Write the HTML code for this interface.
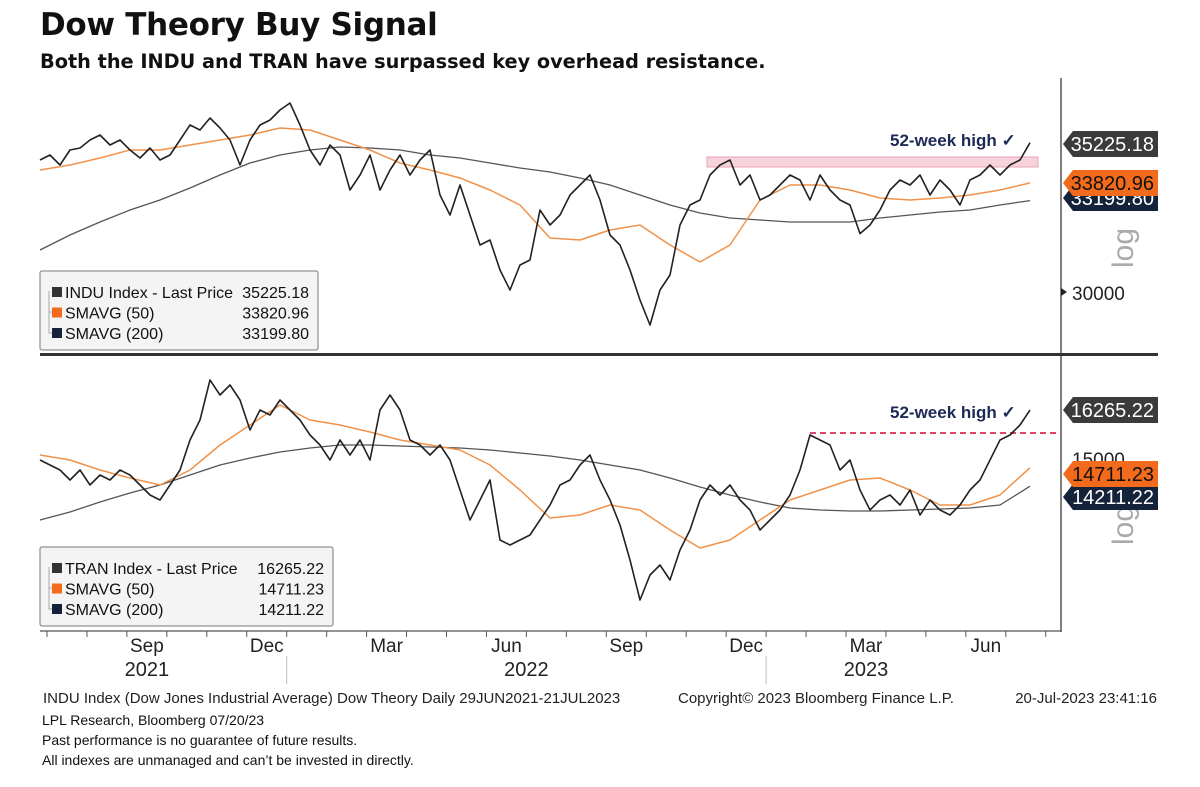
<!DOCTYPE html>
<html><head><meta charset="utf-8">
<style>
body{margin:0;background:#fff;width:1200px;height:787px;overflow:hidden;position:relative;font-family:"Liberation Sans",sans-serif;}
</style></head>
<body>
<div style="position:absolute;left:40px;top:7px;font-size:31px;font-weight:bold;color:#111;font-family:'DejaVu Sans',sans-serif;letter-spacing:-0.3px;">Dow Theory Buy Signal</div>
<div style="position:absolute;left:40px;top:50px;font-size:19.3px;font-weight:bold;color:#111;font-family:'DejaVu Sans',sans-serif;">Both the INDU and TRAN have surpassed key overhead resistance.</div>
<svg id="chart" width="1200" height="787" style="position:absolute;left:0;top:0" xmlns="http://www.w3.org/2000/svg"></svg>
<div class="notes" style="position:absolute;left:42px;top:710px;font-size:14px;line-height:20px;color:#111;">LPL Research, Bloomberg 07/20/23<br>Past performance is no guarantee of future results.<br>All indexes are unmanaged and can’t be invested in directly.</div>
<script>
const induClose=[34620,34795,34445,34970,35040,35320,35495,35145,35320,34970,34690,35040,34620,34795,35320,35845,35670,36090,35740,35320,34445,35320,35845,36020,36370,36615,35845,34970,34445,35145,34795,33570,34095,34795,33570,34270,34795,34095,34620,34970,33395,32695,33745,32695,31645,31820,30770,30070,30945,31120,32870,32345,32695,33395,33745,34095,33220,31995,31645,30770,29720,28845,30070,30595,32345,33045,33220,34095,34445,34620,33745,34095,33220,33395,33745,34095,33920,33220,34095,33570,33220,33045,32045,32345,32870,33570,33920,33745,34095,33395,33920,33570,33045,33920,34095,34445,34095,34445,34620,35225];
const induSma50=[34270,34445,34690,34970,34970,35145,35320,35495,35740,35670,35320,34970,34515,34270,33990,33570,33045,31890,31820,32170,32345,31645,31050,31645,33220,33745,33745,33570,33290,33220,33290,33395,33570,33820];
const induSma200=[31470,31995,32450,32870,33220,33640,34095,34515,34795,34970,35075,35040,34970,34795,34690,34515,34340,34200,33990,33745,33395,33045,32765,32590,32520,32450,32450,32450,32590,32695,32800,32870,33045,33200];
const tranClose=[14919,14784,14649,14379,14649,14244,14514,14379,14649,14514,14244,13974,13839,14244,14649,15459,15999,17079,16674,16944,16539,15729,16269,16134,16539,16269,15999,15594,15324,14919,15459,15054,15459,14919,16269,16674,16269,15459,15324,15054,15324,14919,14109,13299,13839,14379,12759,12624,12759,12894,13299,13704,14244,14379,14784,15054,14379,13839,13164,12219,11139,11814,12084,11679,12489,13029,13839,14244,13974,14244,13839,13569,13029,13299,13569,13974,14649,15594,15459,15324,14649,14919,14109,13569,13839,13974,13704,14109,13434,13839,13569,13434,13704,14109,14379,14919,15459,15594,15864,16265];
const tranSma50=[15054,14919,14649,14433,14244,14649,15324,15864,16404,15999,15864,15675,15459,15324,15189,14784,14109,13353,13434,13704,13569,13029,12543,12759,13299,13839,14109,14379,14433,14109,13704,13704,13974,14711];
const tranSma200=[13299,13515,13785,14028,14244,14514,14784,14973,15135,15243,15324,15324,15297,15270,15243,15189,15108,15027,14919,14784,14649,14433,14190,13974,13785,13623,13569,13542,13542,13569,13596,13623,13704,14211];
const monthLabels=["Sep","Dec","Mar","Jun","Sep","Dec","Mar","Jun"];
const monthIdx=[2,5,8,11,14,17,20,23];
const yearLabels=["2021","2022","2023"];
const yearIdx=[2,11.5,20];

const svg=document.getElementById('chart');
const NS="http://www.w3.org/2000/svg";
const NF='Liberation Sans Narrow, Liberation Sans, sans-serif';
function mk(tag,attrs,parent){const e=document.createElementNS(NS,tag);for(const k in attrs)e.setAttribute(k,attrs[k]);(parent||svg).appendChild(e);return e;}
const X0=40,X1=1030;
function xFrac(f){return X0+(X1-X0)*f;}
function xMonth(m){return 47+39.95*m;}
function yTop(v){return 292-(v-30000)/35;}
function yBot(v){return 457-(v-15000)/27;}
function line(arr,ys,color,w,name){
  const pts=arr.map((v,i)=>xFrac(i/(arr.length-1)).toFixed(1)+","+ys(v).toFixed(1)).join(" ");
  const p=mk('polyline',{points:pts,fill:'none',stroke:color,'stroke-width':w,'stroke-linejoin':'round'});
  
  
}
function txt(x,y,s,attrs,name){const t=mk('text',Object.assign({x:x,y:y},attrs));t.textContent=s;return t;}
const ax=mk('line',{x1:1061,y1:78,x2:1061,y2:632,stroke:'#555','stroke-width':1.5});


const sep=mk('line',{x1:40,y1:354.5,x2:1158,y2:354.5,stroke:'#333','stroke-width':3});


const bx=mk('line',{x1:40,y1:631,x2:1061,y2:631,stroke:'#555','stroke-width':1.2});


txt(1133,268,"log",{'font-size':30,fill:'#aaa',transform:'rotate(-90 1133 268)'},'log-scale-label-top');
txt(1133,545,"log",{'font-size':30,fill:'#aaa',transform:'rotate(-90 1133 545)'},'log-scale-label-bottom');
const band=mk('rect',{x:707,y:157,width:331,height:10,fill:'#f7d4dc',stroke:'#eaa0b4','stroke-width':1});


const dash=mk('line',{x1:810,y1:433,x2:1061,y2:433,stroke:'#e0456a','stroke-width':2,'stroke-dasharray':'6,4'});


line(induSma200,yTop,'#555',1.3,'indu-sma200-line');
line(induSma50,yTop,'#f0924a',1.5,'indu-sma50-line');
line(induClose,yTop,'#222',1.6,'indu-price-line');
line(tranSma200,yBot,'#555',1.3,'tran-sma200-line');
line(tranSma50,yBot,'#f0924a',1.5,'tran-sma50-line');
line(tranClose,yBot,'#222',1.6,'tran-price-line');
txt(890,146,"52-week high ✓",{'font-size':17,'font-weight':'bold',fill:'#1c2a55','font-family':NF},'indu-52wk-annotation');
txt(890,418,"52-week high ✓",{'font-size':17,'font-weight':'bold',fill:'#1c2a55','font-family':NF},'tran-52wk-annotation');
const t1=mk('path',{d:'M1061,288 l6,4 l-6,4z',fill:'#222'});


txt(1072,300,"30000",{'font-size':19,fill:'#222','font-family':NF},'y-tick-label-30000');
txt(1072,466,"15000",{'font-size':19,fill:'#222','font-family':NF},'y-tick-label-15000');
function tag(yc,label,bg,fg,name){
  const g=mk('g',{});
  
  
  mk('path',{d:`M1063,${yc} l10,-13 h85 v26 h-85z`,fill:bg},g);
  const t=mk('text',{x:1154,y:yc+7,'text-anchor':'end','font-size':20,fill:fg,'font-family':NF},g);
  t.textContent=label;
}
tag(198,"33199.80",'#14233a','#fff','indu-sma200-tag');
tag(183,"33820.96",'#f26a1b','#111','indu-sma50-tag');
tag(144,"35225.18",'#3b3b3b','#fff','indu-price-tag');
tag(497,"14211.22",'#14233a','#fff','tran-sma200-tag');
tag(474,"14711.23",'#f26a1b','#111','tran-sma50-tag');
tag(410,"16265.22",'#3b3b3b','#fff','tran-price-tag');
function legend(x,y,w,rows,name){
  const g=mk('g',{});
  
  
  mk('rect',{x:x,y:y,width:w,height:79,fill:'#f4f4f4',stroke:'#777','stroke-width':1,rx:2},g);
  mk('path',{d:`M${x+9},${y+20} v42 h4 M${x+9},${y+41} h4`,stroke:'#aaa',fill:'none'},g);
  rows.forEach((r,i)=>{
    const yy=y+22+i*20.5;
    mk('rect',{x:x+12,y:yy-6,width:10,height:10,fill:r[2]},g);
    const a=mk('text',{x:x+25,y:yy+5,'font-size':16,fill:'#111','font-family':NF},g);a.textContent=r[0];
    const b=mk('text',{x:x+w-9,y:yy+5,'font-size':16,fill:'#111','text-anchor':'end','font-family':NF},g);b.textContent=r[1];
  });
}
legend(40,271,278,[["INDU Index - Last Price","35225.18","#333"],["SMAVG (50)","33820.96","#f26a1b"],["SMAVG (200)","33199.80","#14233a"]],'indu-legend');
legend(40,547,293,[["TRAN Index - Last Price","16265.22","#333"],["SMAVG (50)","14711.23","#f26a1b"],["SMAVG (200)","14211.22","#14233a"]],'tran-legend');
for(let m=0;m<26;m++){
  const t=mk('line',{x1:xMonth(m),y1:631,x2:xMonth(m),y2:637,stroke:'#555'});
  
  
}
monthLabels.forEach((s,i)=>txt(xMonth(monthIdx[i])+20,652,s,{'font-size':19,'text-anchor':'middle',fill:'#222','font-family':NF},'x-month-label'));
yearLabels.forEach((s,i)=>txt(xMonth(yearIdx[i])+20,676,s,{'font-size':20,'text-anchor':'middle',fill:'#222','font-family':NF},'x-year-label'));
[6,18].forEach(m=>{const l=mk('line',{x1:xMonth(m),y1:656,x2:xMonth(m),y2:684,stroke:'#bbb'});});
txt(43,703,"INDU Index (Dow Jones Industrial Average) Dow Theory  Daily 29JUN2021-21JUL2023",{'font-size':15,fill:'#222','font-family':NF},'footer-description');
txt(678,703,"Copyright© 2023 Bloomberg Finance L.P.",{'font-size':15,fill:'#222','font-family':NF},'footer-copyright');
txt(1157,703,"20-Jul-2023 23:41:16",{'font-size':15,fill:'#222','text-anchor':'end','font-family':NF},'footer-timestamp');
</script>
</body></html>
